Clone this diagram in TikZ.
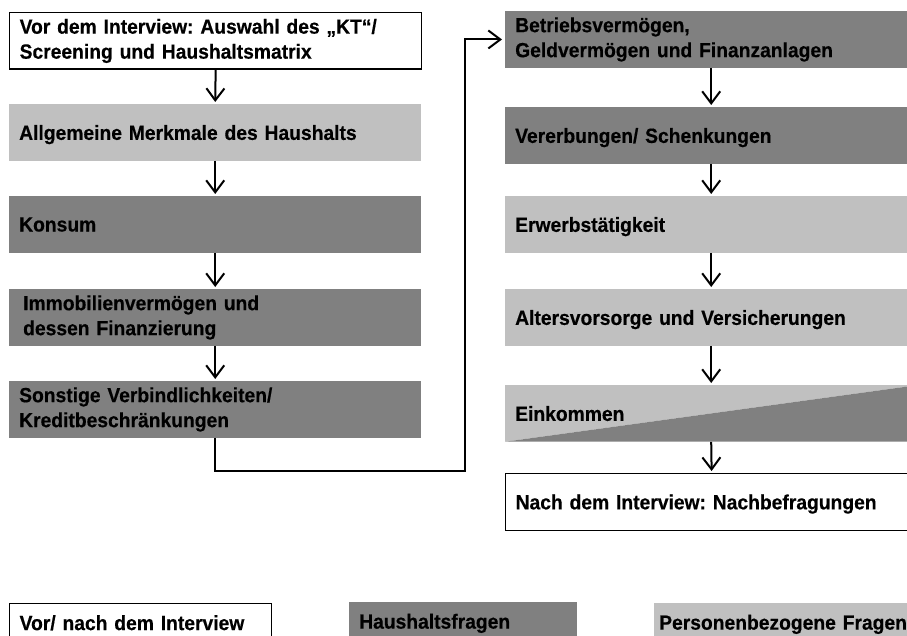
\documentclass[tikz,border=0pt]{standalone}
\usepackage{fontspec}
\setmainfont{Liberation Sans}
\newfontfamily\bxfont{Liberation Sans Bold}[FakeStretch=0.94, WordSpace=0.7, FakeBold=0.4]
\frenchspacing
\usetikzlibrary{arrows.meta}
\definecolor{lgray}{HTML}{C0C0C0}
\definecolor{dgray}{HTML}{808080}
\begin{document}
\begin{tikzpicture}[x=1pt,y=1pt,
  box/.style={anchor=north west, minimum width=412pt, minimum height=56.5pt,
    text width=392pt, inner xsep=10pt, inner ysep=0pt, align=left,
    font=\bxfont\fontsize{20.5}{25}\selectfont},
  one/.style={text depth=0pt},
  wbox/.style={box, draw=black, line width=1.3pt, fill=white},
  lbox/.style={box, fill=lgray},
  dbox/.style={box, fill=dgray},
  arr/.style={line width=2pt, -{Straight Barb[length=12pt,width=18pt]}, shorten >=2pt}]
\useasboundingbox (0,0) rectangle (907,-636);
\clip (0,0) rectangle (907,-636);
% left column
\node[wbox] (b1) at (9,-12) {Vor dem Interview: Auswahl des „KT“/\\Screening und Haushaltsmatrix};
\node[lbox, one] (b2) at (9,-104) {Allgemeine Merkmale des Haushalts};
\node[dbox, one] (b3) at (9,-196) {Konsum};
\node[dbox] (b4) at (9,-289) {\hspace*{4pt}Immobilienvermögen und\\\hspace*{4pt}dessen Finanzierung};
\node[dbox] (b5) at (9,-381) {Sonstige Verbindlichkeiten/\\Kreditbeschränkungen};
% right column
\node[dbox] (b6) at (505,-11) {Betriebsvermögen,\\Geldvermögen und Finanzanlagen};
\node[dbox, one] (b7) at (505,-107) {Vererbungen/ Schenkungen};
\node[lbox, one] (b8) at (505,-196) {Erwerbstätigkeit};
\node[lbox, one] (b9) at (505,-289) {Altersvorsorge und Versicherungen};
\node[box, one, path picture={
    \fill[lgray] (path picture bounding box.north west) -- (path picture bounding box.north east)
      -- (path picture bounding box.south west) -- cycle;
    \fill[dgray] (path picture bounding box.south west) -- (path picture bounding box.north east)
      -- (path picture bounding box.south east) -- cycle;}] (b10) at (505,-385) {Einkommen};
\node[wbox, one] (b11) at (505,-473) {Nach dem Interview: Nachbefragungen};
% arrows
\draw[arr] (b1.south) -- (b2.north);
\draw[arr] (b2.south) -- (b3.north);
\draw[arr] (b3.south) -- (b4.north);
\draw[arr] (b4.south) -- (b5.north);
\coordinate (c1) at (465,-471);
\draw[arr, shorten >=3pt] (b5.south) |- (c1) |- (b6.west);
\draw[arr] (b6.south) -- (b7.north);
\draw[arr] (b7.south) -- (b8.north);
\draw[arr] (b8.south) -- (b9.north);
\draw[arr] (b9.south) -- (b10.north);
\draw[arr] (b10.south) -- (b11.north);
% legend
\node[wbox, one, minimum width=262pt, text width=242pt, minimum height=38pt] (l1) at (9,-603) {Vor/ nach dem Interview};
\node[dbox, one, minimum width=228pt, text width=208pt, minimum height=38pt] (l2) at (349,-602) {Haushaltsfragen};
\node[lbox, one, minimum width=280pt, text width=270pt, inner xsep=5pt, minimum height=38pt] (l3) at (654,-603) {Personenbezogene Fragen};
\end{tikzpicture}
\end{document}
